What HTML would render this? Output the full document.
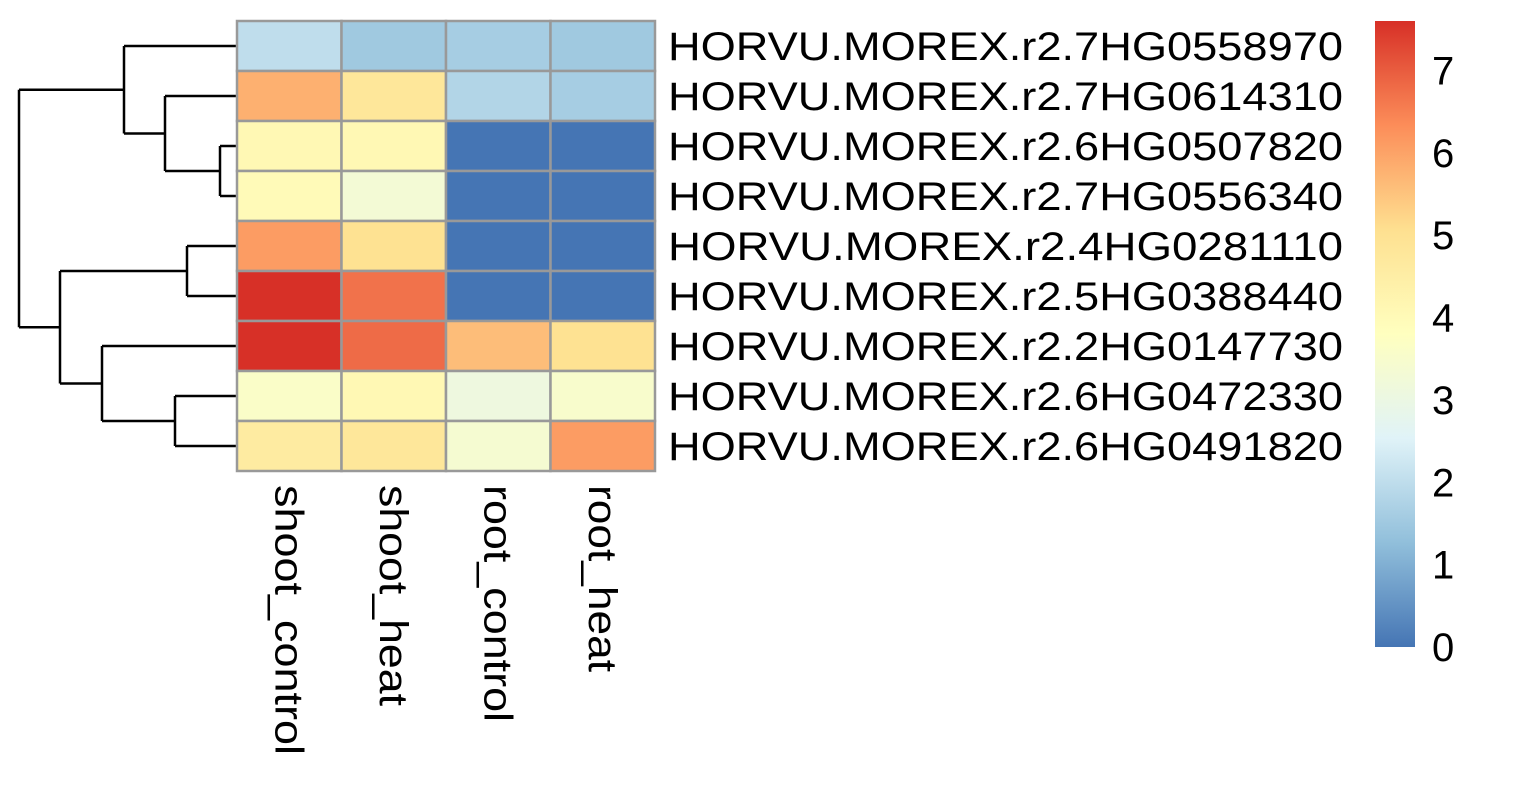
<!DOCTYPE html>
<html><head><meta charset="utf-8"><style>
body{margin:0;background:#fff;}
svg text{font-family:"Liberation Sans",Arial,sans-serif;fill:#000;}
</style></head><body>
<svg id="chart" width="1514" height="787" xmlns="http://www.w3.org/2000/svg">
<defs><linearGradient id="cbg" x1="0" y1="1" x2="0" y2="0">
<stop offset="0" stop-color="#4575B4"/><stop offset="0.1667" stop-color="#91BFDB"/><stop offset="0.3333" stop-color="#E0F3F8"/><stop offset="0.5" stop-color="#FFFFBF"/><stop offset="0.6667" stop-color="#FEE090"/><stop offset="0.8333" stop-color="#FC8D59"/><stop offset="1" stop-color="#D73027"/>
</linearGradient></defs>
<g id="dendro" stroke="#000" stroke-width="2.5" fill="none"></g>
<g id="cells"></g>
<g id="rowlabels"></g>
<g id="collabels"></g>
<rect x="1375" y="21" width="40" height="626" fill="url(#cbg)"/>
<g id="legend"></g>
</svg>
<script>
const rows = ["HORVU.MOREX.r2.7HG0558970","HORVU.MOREX.r2.7HG0614310","HORVU.MOREX.r2.6HG0507820","HORVU.MOREX.r2.7HG0556340","HORVU.MOREX.r2.4HG0281110","HORVU.MOREX.r2.5HG0388440","HORVU.MOREX.r2.2HG0147730","HORVU.MOREX.r2.6HG0472330","HORVU.MOREX.r2.6HG0491820"];
const cols = ["shoot_control","shoot_heat","root_control","root_heat"];
const values = [
[2.0,1.5,1.6,1.5],
[5.8,4.8,1.8,1.6],
[4.1,4.1,0,0],
[4.0,3.3,0,0],
[6.1,5.0,0,0],
[7.6,6.7,0,0],
[7.6,6.8,5.6,5.0],
[3.6,4.1,3.1,3.5],
[4.6,4.8,3.4,6.1]];
const legendTicks = [0,1,2,3,4,5,6,7];
const colLabelLen = [270,221,237,187];
const vmin=0, vmax=7.6;
const pal=["#4575B4","#91BFDB","#E0F3F8","#FFFFBF","#FEE090","#FC8D59","#D73027"];
function hex(h){return [1,3,5].map(i=>parseInt(h.substr(i,2),16));}
function color(v){let t=(v-vmin)/(vmax-vmin)*6;t=Math.max(0,Math.min(6,t));const i=Math.min(5,Math.floor(t)),f=t-i;const a=hex(pal[i]),b=hex(pal[i+1]);return "rgb("+a.map((c,k)=>Math.round(c+(b[k]-c)*f)).join(",")+")";}
const X0=237,Y0=21,CW=104.5,CH=50;
const ns="http://www.w3.org/2000/svg";
function mk(t,a,p){const e=document.createElementNS(ns,t);for(const k in a)e.setAttribute(k,a[k]);p.appendChild(e);return e;}
const cells=document.getElementById('cells');
values.forEach((r,i)=>r.forEach((v,j)=>{
 const e=mk('rect',{x:X0+j*CW,y:Y0+i*CH,width:CW,height:CH,fill:color(v),stroke:"#999",'stroke-width':2.5},cells);
 
 
}));
const rl=document.getElementById('rowlabels');
rows.forEach((n,i)=>{const e=mk('text',{x:668,y:Y0+i*CH+CH/2+14,'font-size':40,textLength:675,lengthAdjust:'spacingAndGlyphs'},rl);e.textContent=n;
 
 });
const cl=document.getElementById('collabels');
cols.forEach((n,j)=>{const x=X0+j*CW+CW/2-14,y=485;const e=mk('text',{x:x,y:y,'font-size':40,textLength:colLabelLen[j],lengthAdjust:'spacingAndGlyphs',transform:'rotate(90 '+x+' '+y+')'},cl);e.textContent=n;
 
 });
const lg=document.getElementById('legend');
function ly(v){return 647-(v-vmin)/(vmax-vmin)*626;}
legendTicks.forEach(v=>{const e=mk('text',{x:1432,y:ly(v)+14,'font-size':40},lg);e.textContent=v;
 
 });
const d=document.getElementById('dendro');
const yc=i=>Y0+i*CH+CH/2;
function seg(x1,y1,x2,y2){mk('line',{x1:x1,y1:y1,x2:x2,y2:y2},d);}
function join(xa,ya,xb,yb,h){seg(h,ya,xa,ya);seg(h,yb,xb,yb);seg(h,ya,h,yb);return (ya+yb)/2;}
const L=X0;
let m34=join(L,yc(2),L,yc(3),220);
let m234=join(L,yc(1),220,m34,165);
let m1234=join(L,yc(0),165,m234,124);
let m56=join(L,yc(4),L,yc(5),187);
let m89=join(L,yc(7),L,yc(8),175);
let m789=join(L,yc(6),175,m89,102);
let m5_9=join(187,m56,102,m789,60);
join(124,m1234,60,m5_9,19);
</script>
</body></html>
